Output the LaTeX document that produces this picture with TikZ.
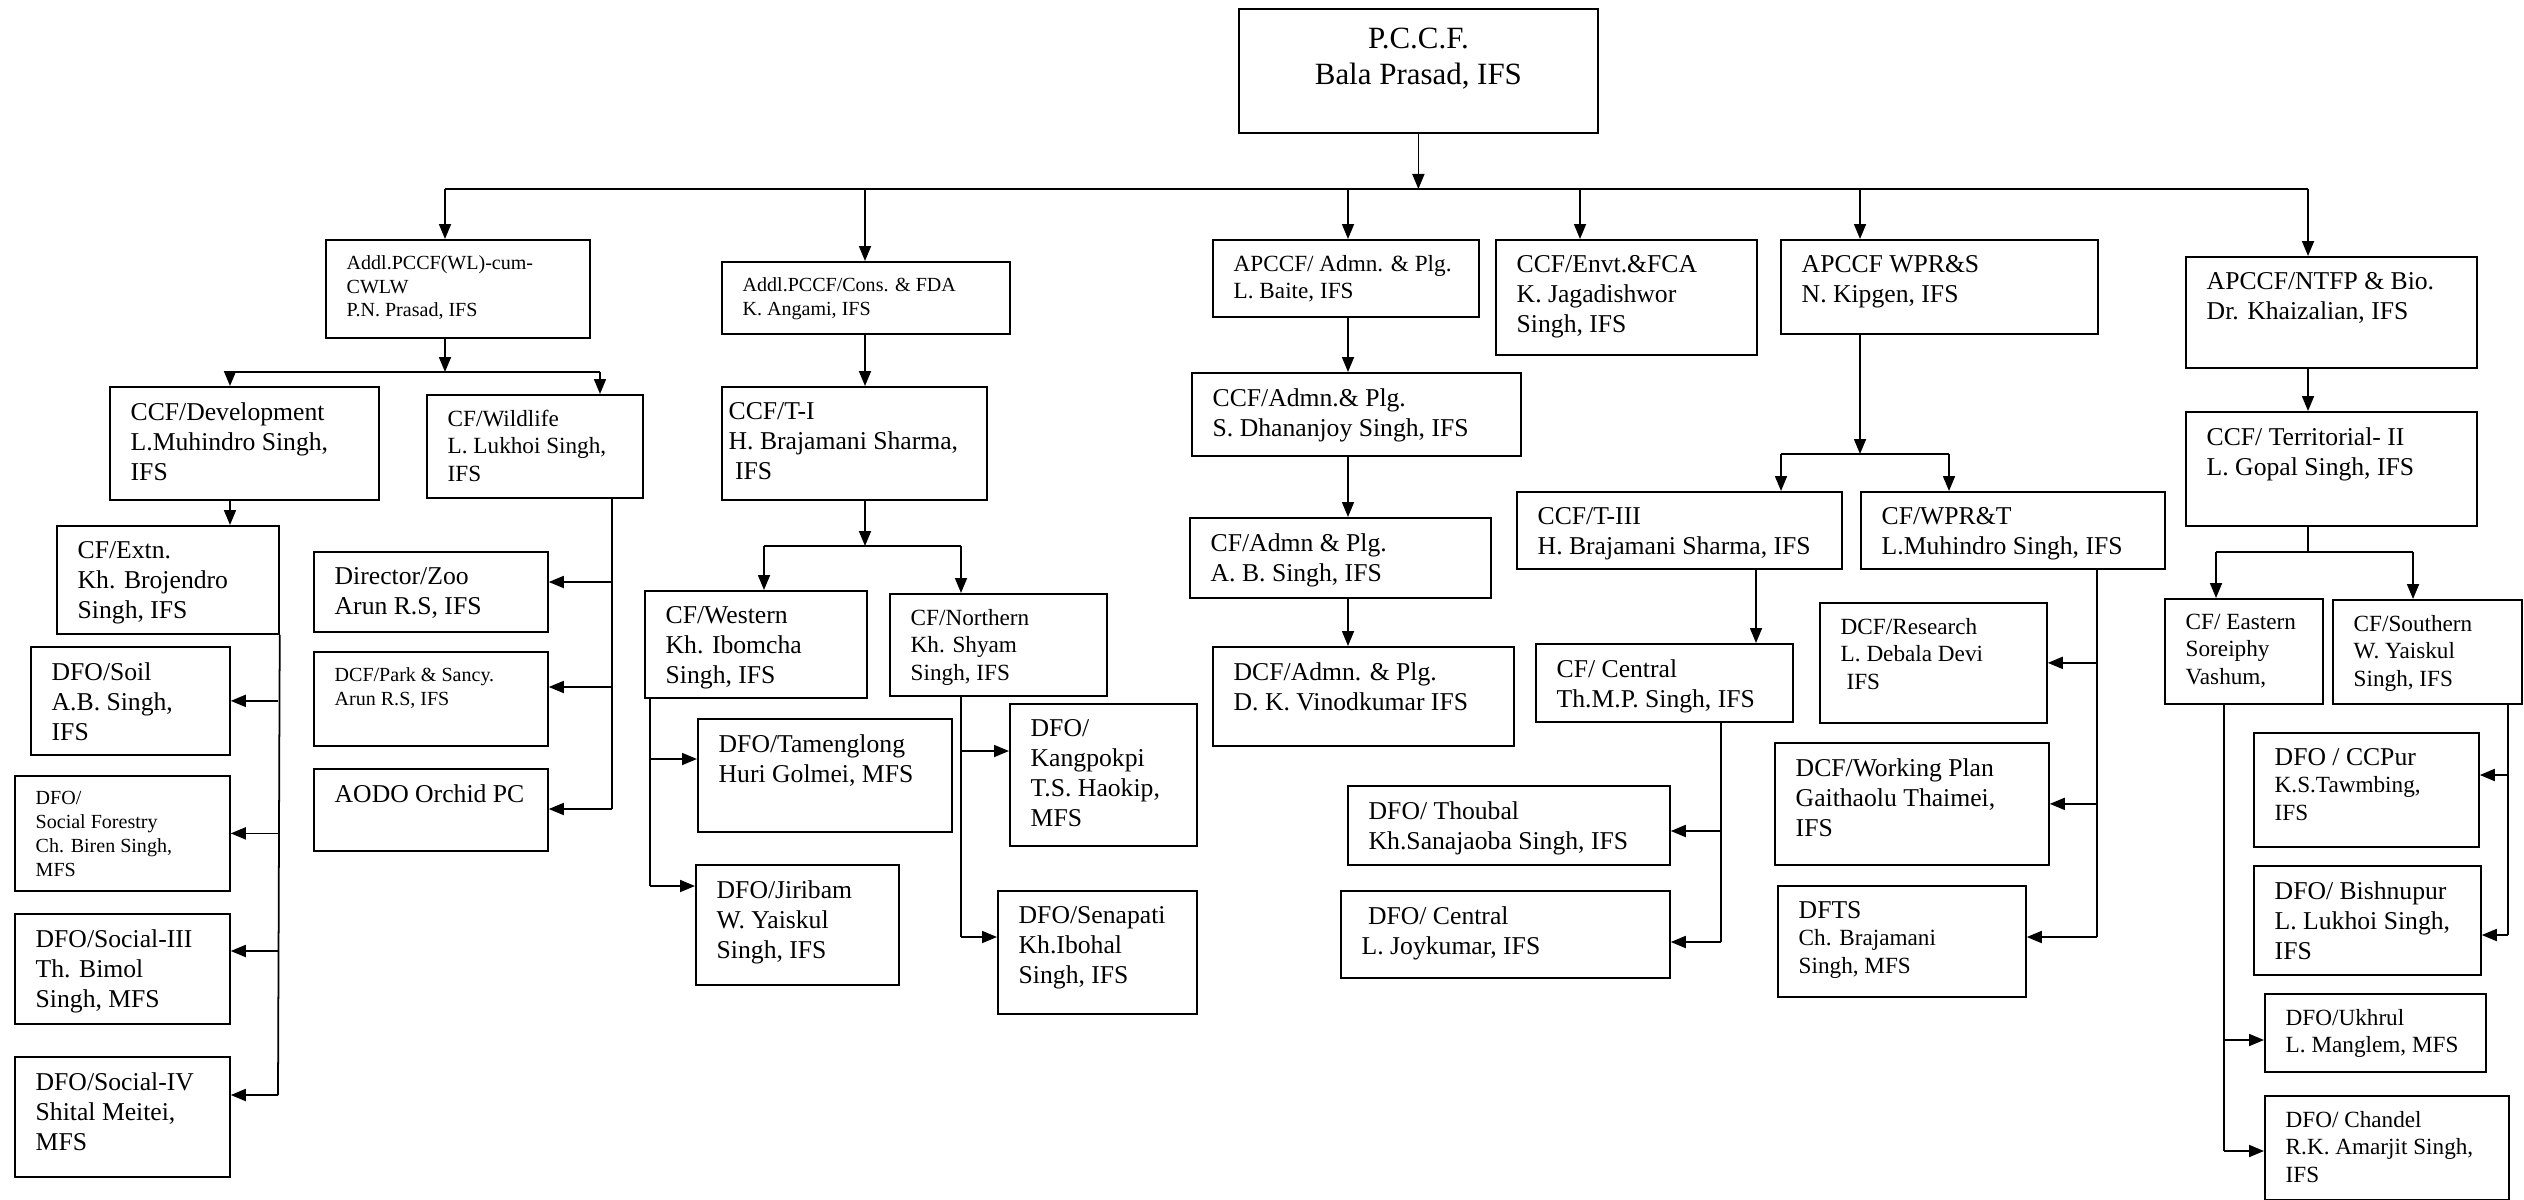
\documentclass[tikz,border=0pt]{standalone}
\usepackage{fontspec}
\setmainfont{Liberation Serif}
\usetikzlibrary{arrows.meta}
\newcommand\fbig{\fontsize{8.8}{10.2}\selectfont}
\newcommand\fnorm{\fontsize{7.3}{8.6}\selectfont}
\newcommand\fmid{\fontsize{6.6}{7.8}\selectfont}
\newcommand\fsml{\fontsize{5.7}{6.8}\selectfont}
\tikzset{
  box/.style={draw, line width=0.5pt, anchor=north west, inner sep=0pt},
  lbl/.style={anchor=north west, align=left, inner sep=0pt, xshift=2.1mm, yshift=-1.55mm, font=\fnorm},
  arr/.style={-{Triangle[length=1.5mm,width=1.2mm]}, line width=0.5pt}
}
\begin{document}
\begin{tikzpicture}[x=0.1mm,y=-0.1mm]
      \useasboundingbox (0,0) rectangle (2524,1200);
      % top
      \node[box, minimum width=35.9mm, minimum height=12.4mm, label={[lbl,font=\fbig,anchor=north,xshift=-2.1mm,yshift=-0.35mm,align=center]north:{P.C.C.F.\\Bala Prasad, IFS}}] (pccf) at (1238,8) {};
      % first row
      \node[box, minimum width=26.4mm, minimum height=9.8mm, label={[lbl,font=\fsml]north west:{Addl.PCCF(WL)-cum-\\CWLW\\P.N. Prasad, IFS}}] (wl) at (325,239) {};
      \node[box, minimum width=28.8mm, minimum height=7.2mm, label={[lbl,font=\fsml]north west:{Addl.PCCF/Cons. \& FDA\\K. Angami, IFS}}] (cons) at (721,261) {};
      \node[box, minimum width=26.6mm, minimum height=7.7mm, label={[lbl,font=\fmid]north west:{APCCF/ Admn. \& Plg.\\L. Baite, IFS}}] (apa) at (1212,239) {};
      \node[box, minimum width=26.1mm, minimum height=11.5mm, label={[lbl]north west:{CCF/Envt.\&FCA\\K. Jagadishwor\\Singh, IFS}}] (envt) at (1495,239) {};
      \node[box, minimum width=31.7mm, minimum height=9.4mm, label={[lbl]north west:{APCCF WPR\&S\\N. Kipgen, IFS}}] (wprs) at (1780,239) {};
      \node[box, minimum width=29.1mm, minimum height=11.1mm, label={[lbl]north west:{APCCF/NTFP \& Bio.\\Dr. Khaizalian, IFS}}] (ntfp) at (2185,256) {};
      % wildlife side
      \node[box, minimum width=26.9mm, minimum height=11.3mm, label={[lbl]north west:{CCF/Development\\L.Muhindro Singh,\\IFS}}] (dev) at (109,386) {};
      \node[box, minimum width=21.6mm, minimum height=10.3mm, label={[lbl,font=\fmid]north west:{CF/Wildlife\\L. Lukhoi Singh,\\IFS}}] (wild) at (426,394) {};
      \node[box, minimum width=22.2mm, minimum height=10.8mm, label={[lbl]north west:{CF/Extn.\\Kh. Brojendro\\Singh, IFS}}] (extn) at (56,525) {};
      \node[box, minimum width=19.9mm, minimum height=10.8mm, label={[lbl]north west:{DFO/Soil\\A.B. Singh,\\IFS}}] (soil) at (30,646) {};
      \node[box, minimum width=21.5mm, minimum height=11.5mm, label={[lbl,font=\fsml]north west:{DFO/\\Social Forestry\\Ch. Biren Singh,\\MFS}}] (sofo) at (14,775) {};
      \node[box, minimum width=21.5mm, minimum height=11.0mm, label={[lbl]north west:{DFO/Social-III\\Th. Bimol\\Singh, MFS}}] (soc3) at (14,913) {};
      \node[box, minimum width=21.5mm, minimum height=12.0mm, label={[lbl]north west:{DFO/Social-IV\\Shital Meitei,\\MFS}}] (soc4) at (14,1056) {};
      \node[box, minimum width=23.4mm, minimum height=8.0mm, label={[lbl]north west:{Director/Zoo\\Arun R.S, IFS}}] (zoo) at (313,551) {};
      \node[box, minimum width=23.4mm, minimum height=9.4mm, label={[lbl,font=\fsml]north west:{DCF/Park \& Sancy.\\Arun R.S, IFS}}] (park) at (313,651) {};
      \node[box, minimum width=23.4mm, minimum height=8.2mm, label={[lbl]north west:{AODO Orchid PC}}] (aodo) at (313,768) {};
      % territorial I side
      \node[box, minimum width=26.5mm, minimum height=11.3mm, label={[lbl,xshift=-1.4mm]north west:{CCF/T-I\\H. Brajamani Sharma,\\\ IFS}}] (ti) at (721,386) {};
      \node[box, minimum width=22.2mm, minimum height=10.7mm, label={[lbl]north west:{CF/Western\\Kh. Ibomcha\\Singh, IFS}}] (west) at (644,590) {};
      \node[box, minimum width=21.7mm, minimum height=10.2mm, label={[lbl,font=\fmid]north west:{CF/Northern\\Kh. Shyam\\Singh, IFS}}] (cfn) at (889,593) {};
      \node[box, minimum width=25.4mm, minimum height=11.3mm, label={[lbl]north west:{DFO/Tamenglong\\Huri Golmei, MFS}}] (tam) at (697,718) {};
      \node[box, minimum width=20.3mm, minimum height=12.0mm, label={[lbl]north west:{DFO/Jiribam\\W. Yaiskul\\Singh, IFS}}] (jiri) at (695,864) {};
      \node[box, minimum width=18.7mm, minimum height=14.2mm, label={[lbl]north west:{DFO/\\Kangpokpi\\T.S. Haokip,\\MFS}}] (kang) at (1009,703) {};
      \node[box, minimum width=19.9mm, minimum height=12.3mm, label={[lbl]north west:{DFO/Senapati\\Kh.Ibohal\\Singh, IFS}}] (sena) at (997,890) {};
      % admin side
      \node[box, minimum width=32.9mm, minimum height=8.3mm, label={[lbl]north west:{CCF/Admn.\& Plg.\\S. Dhananjoy Singh, IFS}}] (cca) at (1191,372) {};
      \node[box, minimum width=30.1mm, minimum height=8.0mm, label={[lbl]north west:{CF/Admn \& Plg.\\A. B. Singh, IFS}}] (cfa) at (1189,517) {};
      \node[box, minimum width=30.1mm, minimum height=9.9mm, label={[lbl]north west:{DCF/Admn. \& Plg.\\D. K. Vinodkumar IFS}}] (dca) at (1212,646) {};
      % wpr side
      \node[box, minimum width=32.5mm, minimum height=7.7mm, label={[lbl]north west:{CCF/T-III\\H. Brajamani Sharma, IFS}}] (t3) at (1516,491) {};
      \node[box, minimum width=30.4mm, minimum height=7.7mm, label={[lbl]north west:{CF/WPR\&T\\L.Muhindro Singh, IFS}}] (wprt) at (1860,491) {};
      \node[box, minimum width=25.7mm, minimum height=7.8mm, label={[lbl]north west:{CF/ Central\\Th.M.P. Singh, IFS}}] (cfc) at (1535,643) {};
      \node[box, minimum width=32.2mm, minimum height=7.9mm, label={[lbl]north west:{DFO/ Thoubal\\Kh.Sanajaoba Singh, IFS}}] (thou) at (1347,785) {};
      \node[box, minimum width=32.9mm, minimum height=8.7mm, label={[lbl]north west:{\ DFO/ Central\\L. Joykumar, IFS}}] (dfoc) at (1340,890) {};
      \node[box, minimum width=22.7mm, minimum height=12.0mm, label={[lbl,font=\fmid]north west:{DCF/Research\\L. Debala Devi\\\ IFS}}] (res) at (1819,602) {};
      \node[box, minimum width=27.4mm, minimum height=12.2mm, label={[lbl]north west:{DCF/Working Plan\\Gaithaolu Thaimei,\\IFS}}] (wpln) at (1774,742) {};
      \node[box, minimum width=24.8mm, minimum height=11.1mm, label={[lbl,font=\fmid]north west:{{\fnorm DFTS}\\Ch. Brajamani\\Singh, MFS}}] (dfts) at (1777,885) {};
      % ntfp side
      \node[box, minimum width=29.1mm, minimum height=11.4mm, label={[lbl]north west:{CCF/ Territorial- II\\L. Gopal Singh, IFS}}] (ter) at (2185,411) {};
      \node[box, minimum width=15.8mm, minimum height=10.5mm, label={[lbl,font=\fmid]north west:{CF/ Eastern\\Soreiphy\\Vashum,}}] (cfe) at (2164,598) {};
      \node[box, minimum width=18.9mm, minimum height=10.4mm, label={[lbl,font=\fmid]north west:{CF/Southern\\W. Yaiskul\\Singh, IFS}}] (cfs) at (2332,599) {};
      \node[box, minimum width=22.5mm, minimum height=11.4mm, label={[lbl,font=\fmid]north west:{{\fnorm DFO / CCPur}\\K.S.Tawmbing,\\IFS}}] (ccp) at (2253,732) {};
      \node[box, minimum width=22.7mm, minimum height=10.9mm, label={[lbl]north west:{DFO/ Bishnupur\\L. Lukhoi Singh,\\IFS}}] (bish) at (2253,865) {};
      \node[box, minimum width=22.1mm, minimum height=7.8mm, label={[lbl,font=\fmid]north west:{DFO/Ukhrul\\L. Manglem, MFS}}] (ukh) at (2264,993) {};
      \node[box, minimum width=24.4mm, minimum height=10.4mm, label={[lbl,font=\fmid]north west:{DFO/ Chandel\\R.K. Amarjit Singh,\\IFS}}] (chan) at (2264,1095) {};
      % bus points
      \coordinate (d1) at (445,189);
      \coordinate (d2) at (865,189);
      \coordinate (d3) at (1348,189);
      \coordinate (d4) at (1580,189);
      \coordinate (d5) at (1860,189);
      \coordinate (d6) at (2308,189);
      \coordinate (wlb) at (445,372);
      \coordinate (wlL) at (230,372);
      \coordinate (wlR) at (600,372);
      \coordinate (extb) at (278,1095);
      \coordinate (s3) at (278,951);
      \coordinate (wldb) at (612,809);
      \coordinate (z1) at (612,582);
      \coordinate (z2) at (612,687);
      \coordinate (tib) at (865,546);
      \coordinate (tiL) at (764,546);
      \coordinate (tiR) at (961,546);
      \coordinate (wsb) at (650,886);
      \coordinate (w1) at (650,759);
      \coordinate (nsb) at (961,937);
      \coordinate (n1) at (961,751);
      \coordinate (wpb) at (1860,454);
      \coordinate (wpL) at (1781,454);
      \coordinate (wpR) at (1949,454);
      \coordinate (t3x) at (1756,568);
      \coordinate (csb) at (1721,942);
      \coordinate (c1) at (1721,831);
      \coordinate (rsb) at (2097,937);
      \coordinate (teb) at (2308,552);
      \coordinate (teL) at (2216,552);
      \coordinate (teR) at (2413,552);
      \coordinate (esb) at (2224,1151);
      \coordinate (e1) at (2224,1040);
      \coordinate (ssb) at (2508,935);
      \coordinate (q1) at (2508,775);
      \begin{scope}[arr]
        \draw (pccf.south) to (pccf.south |- d1);
        \draw[-] (d1) to (d6);
        \draw (d1) to (d1 |- wl.north);
        \draw (d2) to (d2 |- cons.north);
        \draw (d3) to (d3 |- apa.north);
        \draw (d4) to (d4 |- envt.north);
        \draw (d5) to (d5 |- wprs.north);
        \draw (d6) to (d6 |- ntfp.north);
        % wildlife
        \draw (d1 |- wl.south) to (wlb);
        \draw[-] (wlL) to (wlR);
        \draw (wlL) to (wlL |- dev.north);
        \draw (wlR) to (wlR |- wild.north);
        \draw (wlL |- dev.south) to (wlL |- extn.north);
        \draw[-] (extn.south east) to (extb);
        \draw (extb |- soil.east) to (soil.east);
        \draw (extb |- sofo.east) to (sofo.east);
        \draw (s3) to (s3 -| soc3.east);
        \draw (extb) to (extb -| soc4.east);
        \draw[-] (wldb |- wild.south) to (wldb);
        \draw (z1) to (z1 -| zoo.east);
        \draw (z2) to (z2 -| park.east);
        \draw (wldb) to (wldb -| aodo.east);
        % territorial I
        \draw (d2 |- cons.south) to (d2 |- ti.north);
        \draw (d2 |- ti.south) to (tib);
        \draw[-] (tiL) to (tiR);
        \draw (tiL) to (tiL |- west.north);
        \draw (tiR) to (tiR |- cfn.north);
        \draw[-] (wsb |- west.south) to (wsb);
        \draw (w1) to (w1 -| tam.west);
        \draw (wsb) to (wsb -| jiri.west);
        \draw[-] (nsb |- cfn.south) to (nsb);
        \draw (n1) to (n1 -| kang.west);
        \draw (nsb) to (nsb -| sena.west);
        % admin
        \draw (d3 |- apa.south) to (d3 |- cca.north);
        \draw (d3 |- cca.south) to (d3 |- cfa.north);
        \draw (d3 |- cfa.south) to (d3 |- dca.north);
        % wpr
        \draw (d5 |- wprs.south) to (wpb);
        \draw[-] (wpL) to (wpR);
        \draw (wpL) to (wpL |- t3.north);
        \draw (wpR) to (wpR |- wprt.north);
        \draw (t3x) to (t3x |- cfc.north);
        \draw[-] (csb |- cfc.south) to (csb);
        \draw (c1) to (c1 -| thou.east);
        \draw (csb) to (csb -| dfoc.east);
        \draw[-] (rsb |- wprt.south) to (rsb);
        \draw (rsb |- res.east) to (res.east);
        \draw (rsb |- wpln.east) to (wpln.east);
        \draw (rsb) to (rsb -| dfts.east);
        % ntfp
        \draw (d6 |- ntfp.south) to (d6 |- ter.north);
        \draw[-] (d6 |- ter.south) to (teb);
        \draw[-] (teL) to (teR);
        \draw (teL) to (teL |- cfe.north);
        \draw (teR) to (teR |- cfs.north);
        \draw[-] (esb |- cfe.south) to (esb);
        \draw (e1) to (e1 -| ukh.west);
        \draw (esb) to (esb -| chan.west);
        \draw[-] (ssb |- cfs.south) to (ssb);
        \draw (q1) to (q1 -| ccp.east);
        \draw (ssb) to (ssb -| bish.east);
      \end{scope}
    \end{tikzpicture}
\end{document}
